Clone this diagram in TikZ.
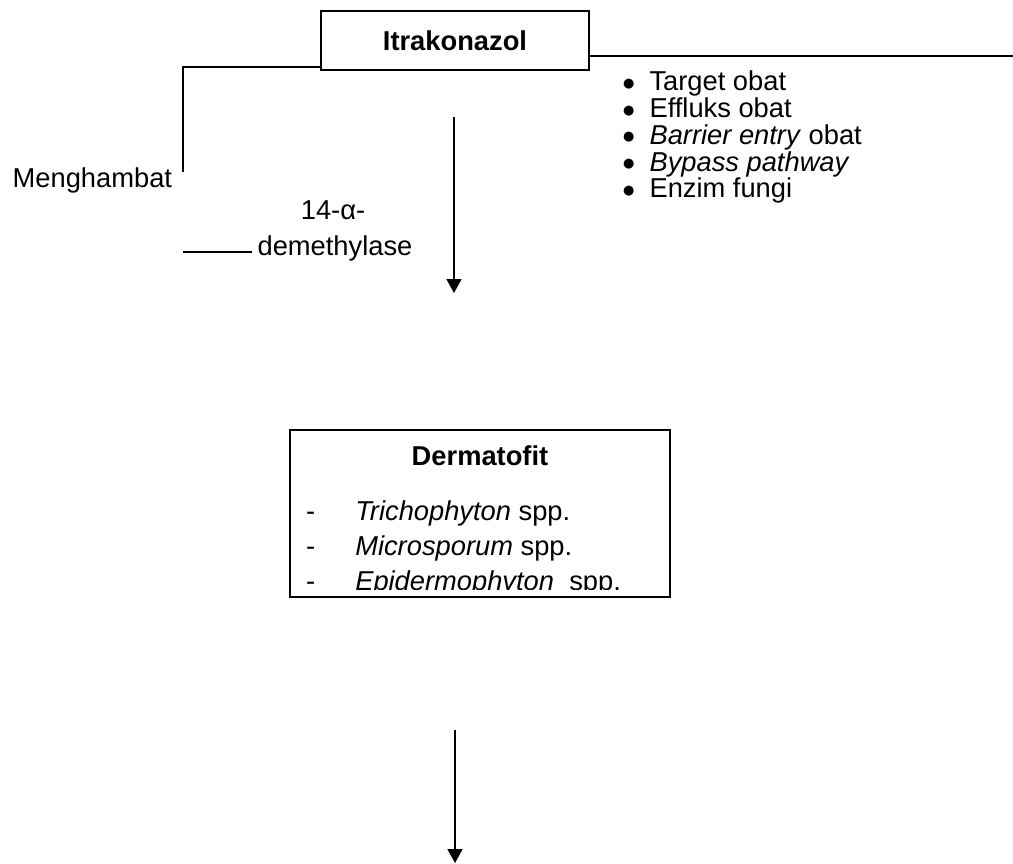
\documentclass[tikz,border=0pt]{standalone}
\usepackage{fontspec}
\setmainfont{Liberation Sans}
\newfontfamily\symfont{DejaVu Sans}
\usepackage{tikz}
\usetikzlibrary{arrows.meta, positioning, calc}
\definecolor{cInk}{HTML}{000000}
\tikzset{
  box/.style={rectangle, draw=cInk, line width=1.5pt, inner sep=0pt, font=\fontsize{27.3}{31}\selectfont\bfseries},
  txt/.style={inner sep=0pt, text=cInk, font=\fontsize{27.3}{31}\selectfont},
  tight/.style={txt, text height=19pt, text depth=5pt},
  link/.style={draw=cInk, line width=1.5pt},
  flow/.style={-{Triangle[length=14pt, width=15pt]}, draw=cInk, line width=1.5pt},
}
\newcommand{\itemdot}{\raisebox{3.5pt}{\symfont\fontsize{13}{13}\selectfont ●}}

\begin{document}
\begin{tikzpicture}[x=1pt, y=-1pt]
\useasboundingbox (0,0) rectangle (1013,863);
% drug box and its two branches
\node[box, minimum width=268pt, minimum height=59pt] (itra) at (455,40.5) {Itrakonazol};
\coordinate (mh) at (183,172);
\coordinate (rt) at (1013,56);
\draw[link] ([yshift=4pt]itra.south west) -| (mh);
\draw[link] (itra.east |- rt) -- (rt);
\node[txt, anchor=base west] (mhT) at (12.5,187) {Menghambat};
% target enzyme
\node[txt, anchor=base] (enz1) at (333,219) {14-α-};
\node[txt, anchor=base] (enz2) at (335,255) {demethylase};
\coordinate (el) at (183,252);
\draw[link] (el) -- ([xshift=-5pt]el -| enz2.west);
\coordinate (a1) at (454,117);
\coordinate (a1e) at (454,293);
\draw[flow] (a1) -- (a1e);
% resistance list
\foreach \t [count=\i] in {Target obat, Effluks obat, \textit{Barrier entry} obat, \textit{Bypass pathway}, Enzim fungi}
  \node[tight, anchor=base west] (res\i) at (623,63.9+26.8*\i) {\itemdot\hspace{15pt}\t};
% dermatophytes
\node[box, minimum width=380pt, minimum height=167pt] (derm) at (480,513.5) {};
\node[txt, anchor=base] (dermT) at (480,465) {\bfseries Dermatofit};
\begin{scope}
\clip (derm.north west) rectangle ([yshift=8pt]derm.south east);
\foreach \t [count=\i] in {\textit{Trichophyton} spp., \textit{Microsporum} spp., \textit{Epidermophyton}\ \ spp.}
  \node[tight, anchor=base west] (sp\i) at (306,485+35*\i) {-\hspace{40pt}\t};
\end{scope}
\coordinate (a2) at (455,730);
\coordinate (a2e) at (455,863);
\draw[flow] (a2) -- (a2e);
\end{tikzpicture}
\end{document}
